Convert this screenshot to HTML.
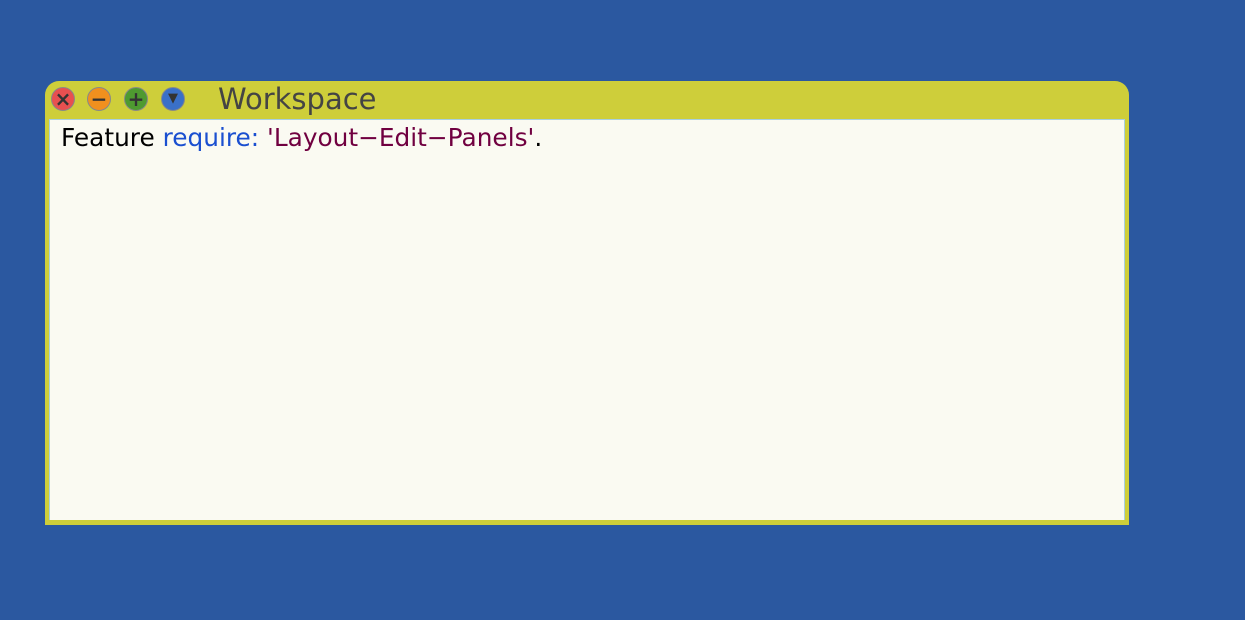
<!DOCTYPE html>
<html><head><style>
body{margin:0;width:1245px;height:620px;background:#2b58a0;position:relative;overflow:hidden;font-family:"DejaVu Sans","Liberation Sans",sans-serif}
#w{position:absolute;left:45px;top:81px;width:1084px;height:444px;background:#cece3a;border-radius:14px 14px 0 0}
#c{position:absolute;left:4px;top:38px;width:1074px;height:400px;background:#fafaf2;border:1px solid #a8d0e0;border-bottom:none;border-right:1px solid #a8d0e0}
.b{position:absolute;top:6px;width:24px;height:24px;border-radius:50%;box-sizing:border-box;border:1px solid #888;color:#333;font-size:20px;line-height:22px;text-align:center;font-weight:bold}
#t{position:absolute;left:173px;top:1px;font-size:29px;color:#444}
#x{position:absolute;left:11px;top:3px;font-size:24.8px;white-space:pre}
</style></head><body>
<div id="w">
<div class="b" style="left:6px;background:#e85050">×</div>
<div class="b" style="left:42px;background:#f0901e">−</div>
<div class="b" style="left:79px;background:#4e9a30">+</div>
<div class="b" style="left:116px;background:#3a70c8;font-size:13px">▼</div>
<div id="t">Workspace</div>
<div id="c"><div id="x">Feature <span style="color:#1a4fd0">require:</span> <span style="color:#700040">'Layout−Edit−Panels'</span>.</div></div>
</div>
</body></html>
